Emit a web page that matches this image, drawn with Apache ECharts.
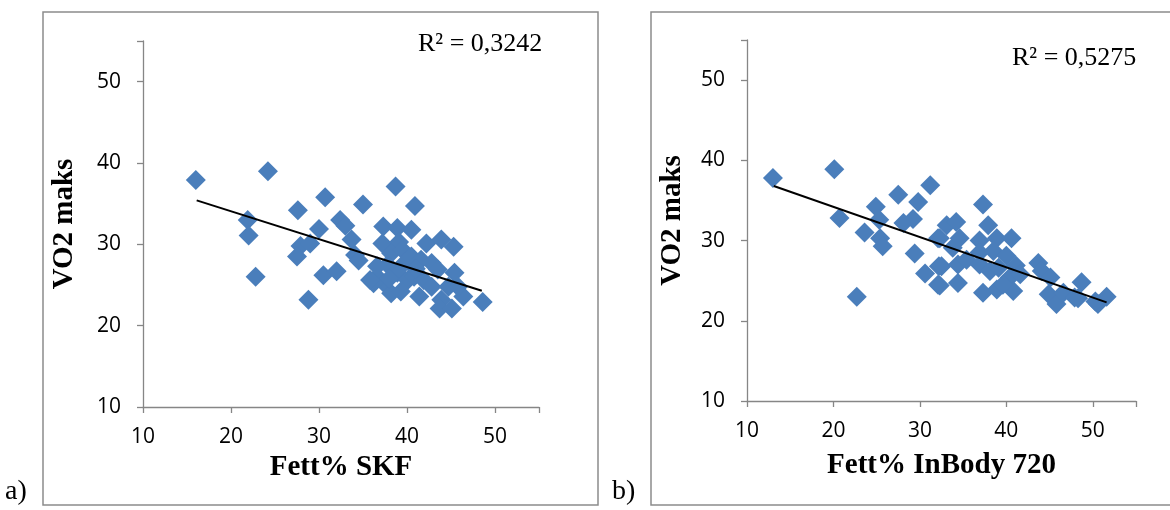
<!DOCTYPE html>
<html>
<head>
<meta charset="utf-8">
<script src="https://cdn.jsdelivr.net/npm/echarts@6/dist/echarts.min.js"></script>
<style>
    html, body { margin: 0; padding: 0; background: #fff; }
    #main { width: 1170px; height: 510px; }
</style>
</head>
<body>
<div id="main"></div>
<script>
// fett% SKF vs VO2 maks
var skfPoints = [
    [16.0,37.9],[24.2,39.0],[21.9,33.0],[22.0,31.1],[22.8,26.0],[27.6,34.2],[30.7,35.8],[30.0,31.9],
    [32.4,33.0],[33.0,32.3],[27.9,29.8],[29.0,30.1],[27.5,28.5],[30.5,26.2],[32.0,26.7],[28.8,23.2],
    [38.7,37.1],[35.0,34.9],[40.9,34.7],[33.7,30.6],[34.1,28.7],[34.5,28.0],[37.3,32.2],[38.9,32.0],
    [40.5,31.8],[37.2,30.1],[39.1,30.3],[42.2,30.1],[43.9,30.6],[45.3,29.7],[38.2,28.9],[39.5,29.3],
    [40.5,28.5],[41.6,28.1],[42.8,27.7],[43.5,26.9],[45.4,26.5],[36.6,26.0],[37.4,25.2],[36.2,25.2],
    [38.9,26.5],[40.1,25.6],[40.8,26.0],[41.9,25.6],[42.8,24.8],[38.2,24.0],[39.3,24.2],[41.4,23.6],
    [43.9,23.2],[43.7,22.1],[45.1,22.1],[46.4,23.6],[48.6,22.9],[44.7,24.8],[45.8,24.8],[37.8,27.5],
    [39.8,27.8],[41.0,27.0],[38.0,25.8],[35.8,25.6],[36.6,27.3]
];
var skfTrend = [[16.1,35.4],[48.5,24.3]];

// fett% InBody 720 vs VO2 maks
var inbodyPoints = [
    [13.0,37.8],[20.1,38.9],[20.7,32.8],[22.7,23.0],[24.9,34.2],[25.3,32.6],[23.6,31.0],[25.4,30.3],
    [25.7,29.3],[27.5,35.7],[29.8,34.8],[31.2,36.9],[28.1,32.2],[29.2,32.7],[29.4,28.4],[30.6,25.9],
    [32.1,24.5],[32.1,30.3],[32.2,26.8],[37.3,34.5],[33.1,31.9],[34.2,32.3],[32.3,30.3],[34.6,30.3],
    [33.8,29.1],[37.9,31.9],[38.9,30.3],[40.6,30.3],[36.9,30.0],[32.5,26.8],[34.4,27.0],[35.4,27.6],
    [32.3,24.4],[34.4,24.7],[36.9,28.5],[38.5,28.7],[40.0,28.1],[36.9,27.0],[38.1,26.2],[39.1,26.6],
    [41.1,26.9],[40.4,25.4],[41.6,25.8],[37.3,23.5],[38.9,23.9],[40.8,23.7],[39.6,24.5],[43.7,27.2],
    [44.1,26.2],[45.1,25.4],[44.9,23.3],[45.8,22.1],[46.6,23.5],[48.7,24.8],[47.9,22.9],[48.3,22.8],
    [50.6,22.1],[51.6,23.0],[50.3,22.4]
];
var inbodyTrend = [[13.1,36.8],[51.6,22.3]];

var axisMin = 10, axisMax = 55, axisStep = 10;
var xNames = ['Fett% SKF', 'Fett% InBody 720'];
var yName = 'VO2 maks';
var r2Labels = ['R² = 0,3242', 'R² = 0,5275'];

var axisGray = '#868686';
var dotBlue = '#4a7ebb';

function xAxisOf(idx, name, gap) {
    return {
        type: 'value', gridIndex: idx, min: axisMin, max: axisMax, interval: axisStep,
        name: name, nameLocation: 'middle', nameGap: gap,
        nameTextStyle: { fontFamily: 'Liberation Serif', fontWeight: 'bold', fontSize: 29, color: '#000' },
        axisLine: { show: true, onZero: false, lineStyle: { color: axisGray, width: 1.3 } },
        axisTick: { show: true, length: 6, lineStyle: { color: axisGray, width: 1.3 } },
        axisLabel: { fontFamily: 'Open Sans', fontSize: 21, color: '#000', margin: 20,
            formatter: function (v) { return v > 50 ? '' : v; } },
        splitLine: { show: false }
    };
}
function yAxisOf(idx, gap) {
    return {
        type: 'value', gridIndex: idx, min: axisMin, max: axisMax, interval: axisStep,
        name: yName, nameLocation: 'middle', nameGap: gap, nameRotate: 90,
        nameTextStyle: { fontFamily: 'Liberation Serif', fontWeight: 'bold', fontSize: 29, color: '#000' },
        axisLine: { show: true, onZero: false, lineStyle: { color: axisGray, width: 1.3 } },
        axisTick: { show: true, length: 6, lineStyle: { color: axisGray, width: 1.3 } },
        axisLabel: { fontFamily: 'Open Sans', fontSize: 21, color: '#000', margin: 22,
            formatter: function (v) { return v > 50 ? '' : v; } },
        splitLine: { show: false }
    };
}

var option = {
    backgroundColor: '#fff',
    animation: false,
    grid: [
        { left: 143, right: 631, top: 41, bottom: 103 },
        { left: 747, right: 34, top: 40, bottom: 109 }
    ],
    xAxis: [xAxisOf(0, xNames[0], 44), xAxisOf(1, xNames[1], 50)],
    yAxis: [yAxisOf(0, 64), yAxisOf(1, 60)],
    graphic: [
        { type: 'rect', shape: { x: 43, y: 12, width: 555, height: 493 },
          style: { fill: 'none', stroke: '#8c8c8c', lineWidth: 1.5 } },
        { type: 'rect', shape: { x: 651, y: 12, width: 560, height: 493 },
          style: { fill: 'none', stroke: '#8c8c8c', lineWidth: 1.5 } },
        { type: 'text', left: 5, top: 478,
          style: { text: 'a)', font: '28px "Liberation Serif"', fill: '#000' } },
        { type: 'text', left: 612, top: 478,
          style: { text: 'b)', font: '28px "Liberation Serif"', fill: '#000' } },
        { type: 'text', left: 418, top: 31,
          style: { text: r2Labels[0], font: '26px "Liberation Serif"', fill: '#000' } },
        { type: 'text', left: 1012, top: 45,
          style: { text: r2Labels[1], font: '26px "Liberation Serif"', fill: '#000' } }
    ],
    series: [
        { type: 'scatter', xAxisIndex: 0, yAxisIndex: 0, data: skfPoints,
          symbol: 'diamond', symbolSize: 20, itemStyle: { color: dotBlue, opacity: 1 } },
        { type: 'line', xAxisIndex: 0, yAxisIndex: 0, data: skfTrend,
          showSymbol: false, lineStyle: { color: '#000', width: 2 } },
        { type: 'scatter', xAxisIndex: 1, yAxisIndex: 1, data: inbodyPoints,
          symbol: 'diamond', symbolSize: 20, itemStyle: { color: dotBlue, opacity: 1 } },
        { type: 'line', xAxisIndex: 1, yAxisIndex: 1, data: inbodyTrend,
          showSymbol: false, lineStyle: { color: '#000', width: 2 } }
    ]
};

var myChart = echarts.init(document.getElementById('main'));
myChart.setOption(option);
</script>
</body>
</html>
